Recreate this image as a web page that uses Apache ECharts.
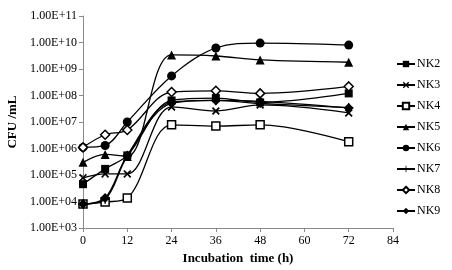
<!DOCTYPE html>
<html><head><meta charset="utf-8">
<script src="https://cdn.jsdelivr.net/npm/echarts@6/dist/echarts.min.js"></script>
<style>html,body{margin:0;padding:0;background:#fff}#c{width:452px;height:270px}</style>
</head><body><div id="c"></div>
<script>
const times = [0, 6, 12, 24, 36, 48, 72];
const xTicks = [0, 12, 24, 36, 48, 60, 72, 84];
const yTicks = [1e3, 1e4, 1e5, 1e6, 1e7, 1e8, 1e9, 1e10, 1e11];
const seriesNames = ['NK2', 'NK3', 'NK4', 'NK5', 'NK6', 'NK7', 'NK8', 'NK9'];
const NK2 = [4.5e4, 1.7e5, 5.5e5, 6.5e7, 8e7, 5.5e7, 1.2e8];
const NK3 = [7.8e4, 1.1e5, 1.1e5, 3.7e7, 2.6e7, 4.4e7, 2.2e7];
const NK4 = [8e3, 9.5e3, 1.35e4, 7.8e6, 7e6, 7.8e6, 1.8e6];
const NK5 = [3e5, 6e5, 5e5, 3.4e9, 3.1e9, 2.2e9, 1.8e9];
const NK6 = [1.1e6, 1.3e6, 1e7, 5.5e8, 6.2e9, 9.5e9, 8e9];
const NK7 = [8e3, 1.2e4, 5e5, 5e7, 6.5e7, 5e7, 3.5e7];
const NK8 = [1.1e6, 3.3e6, 5e6, 1.35e8, 1.5e8, 1.2e8, 2.2e8];
const NK9 = [8e3, 1.35e4, 5.5e5, 5.5e7, 6.5e7, 6e7, 3.4e7];

const values = [NK2, NK3, NK4, NK5, NK6, NK7, NK8, NK9];
const XPATH = 'path://M0,1.5 L1.5,0 L5,3.5 L8.5,0 L10,1.5 L6.5,5 L10,8.5 L8.5,10 L5,6.5 L1.5,10 L0,8.5 L3.5,5 Z';
const PLUS = 'path://M4.4,0 H5.6 V4.4 H10 V5.6 H5.6 V10 H4.4 V5.6 H0 V4.4 H4.4 Z';
const symbols = [
  {s:'rect', size:8, fill:'#000'},
  {s:XPATH, size:8, fill:'#000'},
  {s:'rect', size:8, fill:'#fff', empty:true},
  {s:'triangle', size:9, fill:'#000'},
  {s:'circle', size:9, fill:'#000'},
  {s:PLUS, size:9, fill:'#000'},
  {s:'diamond', size:9, fill:'#fff', empty:true},
  {s:'diamond', size:10, fill:'#000'}
];
const font = '"Liberation Serif", "Times New Roman", serif';
function fmt(v){
  const e = Math.round(Math.log10(v));
  return '1.00E+' + (e < 10 ? '0' + e : '' + e);
}
const chart = echarts.init(document.getElementById('c'), null, {renderer:'canvas'});
chart.setOption({
  animation: false,
  backgroundColor: '#fff',
  grid: {left: 83, right: 59, top: 16, bottom: 42, containLabel: false, outerBoundsMode: 'none'},
  xAxis: {
    type: 'value', min: 0, max: 84, interval: 12,
    name: 'Incubation  time (h)', nameLocation: 'middle', nameGap: 24,
    nameTextStyle: {fontFamily: font, fontWeight: 'bold', fontSize: 13, color: '#000'},
    axisLine: {lineStyle: {color: '#8a8a8a'}},
    axisTick: {show: true, length: 4, lineStyle: {color: '#8a8a8a'}},
    axisLabel: {fontFamily: font, fontSize: 12, color: '#000', margin: 7},
    splitLine: {show: false}
  },
  yAxis: {
    type: 'log', logBase: 10, min: 1e3, max: 1e11,
    name: 'CFU /mL', nameLocation: 'middle', nameGap: 62, nameRotate: 90,
    nameTextStyle: {fontFamily: font, fontWeight: 'bold', fontSize: 13, color: '#000'},
    axisLine: {show: true, lineStyle: {color: '#8a8a8a'}},
    axisTick: {show: true, length: 4, lineStyle: {color: '#8a8a8a'}},
    axisLabel: {fontFamily: font, fontSize: 12, color: '#000', margin: 6, formatter: fmt},
    splitLine: {show: false}
  },
  legend: {
    orient: 'vertical', left: 391, top: 53,
    itemWidth: 18, itemHeight: 8, itemGap: 9,
    textStyle: {fontFamily: font, fontSize: 12, color: '#000', padding: [0,0,0,-3]},
    data: seriesNames
  },
  series: seriesNames.map((n, i) => ({
    name: n, type: 'line', smooth: 0.35, smoothConstraint: false,
    data: times.map((t, j) => [t, values[i][j]]),
    symbol: symbols[i].s, symbolSize: symbols[i].size, showAllSymbol: true,
    lineStyle: {color: '#000', width: 1.3},
    itemStyle: {color: symbols[i].fill, borderColor: '#000', borderWidth: symbols[i].empty ? 1.5 : 0},
    z: 2 + i
  }))
});
</script></body></html>
